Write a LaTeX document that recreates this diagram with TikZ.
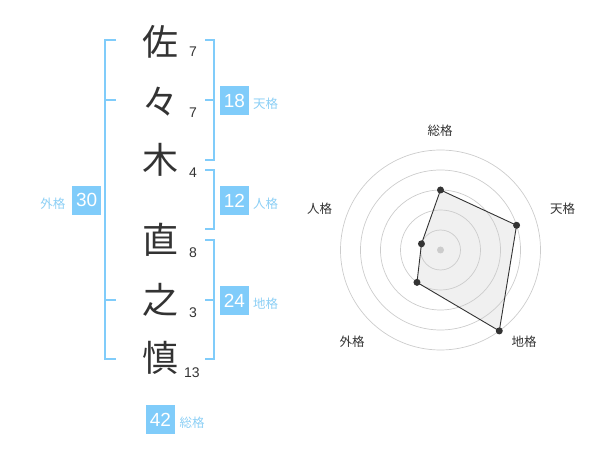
\documentclass[tikz,border=0pt]{standalone}
\usepackage{fontspec}
\usetikzlibrary{calc}
\setmainfont{Liberation Sans}
\newfontfamily\cjk{Noto Sans CJK JP}
\definecolor{kblue}{RGB}{128,204,250}
\definecolor{klabel}{RGB}{140,207,245}
\definecolor{kdark}{RGB}{51,51,51}
\definecolor{kgrid}{RGB}{204,204,204}
\definecolor{kfill}{RGB}{240,240,240}
\tikzset{
  kanji/.style={font=\cjk\fontsize{36}{36}\selectfont, text=kdark, inner sep=0pt},
  strokes/.style={font=\fontsize{14}{14}\selectfont, text=kdark, inner sep=0pt},
  bracket/.style={draw=kblue, line width=1.8pt},
  valbox/.style={fill=kblue, text=white, minimum width=29pt, minimum height=29pt, inner sep=0pt, font=\fontsize{19}{19}\selectfont},
  kakulabel/.style={font=\cjk\fontsize{12.5}{12.5}\selectfont, text=klabel, inner sep=0pt},
  radarlabel/.style={font=\cjk\fontsize{12.5}{12.5}\selectfont, text=kdark, inner sep=0pt},
  gridcircle/.style={draw=kgrid, line width=0.7pt},
  dotmark/.style={circle, fill=kdark, inner sep=0pt, minimum size=7pt},
}
\begin{document}
\begin{tikzpicture}[x=1pt,y=-1pt]
\useasboundingbox (0,0) rectangle (600,470);
% name characters
\node[kanji] (c1) at (160,42) {佐};
\node[kanji] (c2) at (160,102) {々};
\node[kanji] (c3) at (160,160) {木};
\node[kanji] (c4) at (160,240) {直};
\node[kanji] (c5) at (160,300) {之};
\node[kanji] (c6) at (160,358) {慎};
% stroke counts
\node[strokes] (s1) at (193,52) {7};
\node[strokes] (s2) at (193,113) {7};
\node[strokes] (s3) at (193,173) {4};
\node[strokes] (s4) at (193,253) {8};
\node[strokes] (s5) at (193,313) {3};
\node[strokes] (s6) at (192,373) {13};
% brackets
\draw[bracket] (116,40) -- (105,40) -- (105,359) -- (116,359);
\draw[bracket] (105,100) -- (116,100);
\draw[bracket] (105,300) -- (116,300);
\draw[bracket] (205,40) -- (214,40) -- (214,160) -- (205,160);
\draw[bracket] (205,100) -- (214,100);
\draw[bracket] (205,170) -- (214,170) -- (214,229) -- (205,229);
\draw[bracket] (205,240) -- (214,240) -- (214,359) -- (205,359);
\draw[bracket] (205,300) -- (214,300);
% value boxes
\node[valbox] (ten) at (234.5,100.5) {18};
\node[valbox] (jin) at (234.5,200.5) {12};
\node[valbox] (chi) at (234.5,300.5) {24};
\node[valbox] (gai) at (86.7,200.3) {30};
\node[valbox] (sou) at (160.5,419.5) {42};
\node[kakulabel, anchor=west] (tenl) at (253,104) {天格};
\node[kakulabel, anchor=west] (jinl) at (253,204) {人格};
\node[kakulabel, anchor=west] (chil) at (253,304) {地格};
\node[kakulabel, anchor=east] (gail) at (65.5,204) {外格};
\node[kakulabel, anchor=west] (soul) at (179.5,423) {総格};
% radar chart
\coordinate (C) at (440.5,250);
\coordinate (p1) at ($(C)+(-90:60)$);
\coordinate (p2) at ($(C)+(-18:80)$);
\coordinate (p3) at ($(C)+(54:100)$);
\coordinate (p4) at ($(C)+(126:40)$);
\coordinate (p5) at ($(C)+(198:20)$);
\fill[kfill] (p1) -- (p2) -- (p3) -- (p4) -- (p5) -- cycle;
\foreach \r in {20,40,60,80,100} \draw[gridcircle] (C) circle[radius=\r];
\fill[kgrid] (C) circle[radius=3.5];
\draw[kdark, line width=0.9pt] (p1) -- (p2) -- (p3) -- (p4) -- (p5) -- cycle;
\foreach \p in {p1,p2,p3,p4,p5} \node[dotmark] at (\p) {};
\node[radarlabel] (r1) at (440,131) {総格};
\node[radarlabel] (r2) at (562.5,209) {天格};
\node[radarlabel] (r3) at (524,342) {地格};
\node[radarlabel] (r4) at (352,342) {外格};
\node[radarlabel] (r5) at (319.5,209) {人格};
\end{tikzpicture}
\end{document}
